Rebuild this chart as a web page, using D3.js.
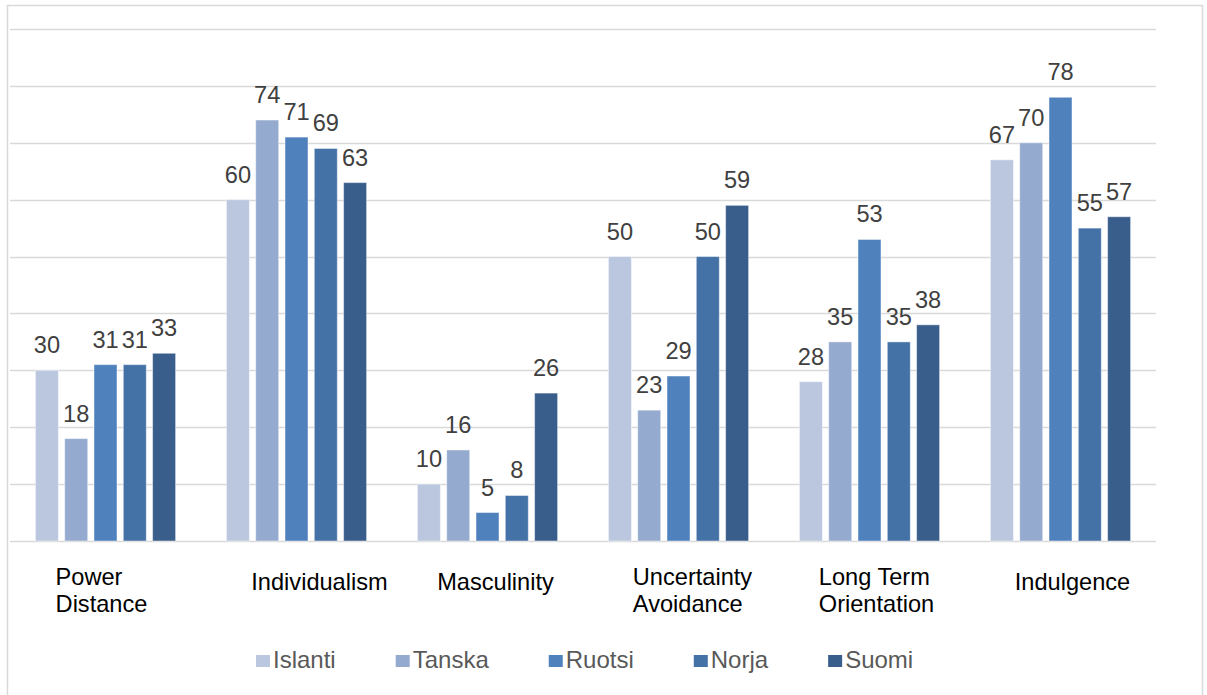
<!DOCTYPE html>
<html>
<head>
<meta charset="utf-8">
<script src="https://cdn.jsdelivr.net/npm/d3@7"></script>
<style>
  body { margin: 0; background: #fff; }
  svg text { font-family: "Liberation Sans", Arial, sans-serif; }
</style>
</head>
<body>
<div id="chart"></div>
<script>
// chart data
const categories = ["Power Distance", "Individualism", "Masculinity", "Uncertainty Avoidance", "Long Term Orientation", "Indulgence"];
const seriesNames = ["Islanti", "Tanska", "Ruotsi", "Norja", "Suomi"];
const islanti = [30, 60, 10, 50, 28, 67];
const tanska  = [18, 74, 16, 23, 35, 70];
const ruotsi  = [31, 71, 5, 29, 53, 78];
const norja   = [31, 69, 8, 50, 35, 55];
const suomi   = [33, 63, 26, 59, 38, 57];
const yTicks  = [0, 10, 20, 30, 40, 50, 60, 70, 80, 90];

const seriesValues = [islanti, tanska, ruotsi, norja, suomi];
const colors = ["#bac7df", "#95aacf", "#4f81bd", "#4472a7", "#3a5e8c"];

// label lines for the category axis (wrapped like the original)
const labelLines = [["Power", "Distance"], ["Individualism"], ["Masculinity"], ["Uncertainty", "Avoidance"], ["Long Term", "Orientation"], ["Indulgence"]];
const labelNudge = [-4, 23, 8, 14, 7, 12];

const W = 1207, H = 695;
const plotLeft = 10, plotRight = 1156, plotTop = 29, plotBottom = 541;
const fontSize = "23.6px";

const svg = d3.select("#chart").append("svg")
  .attr("width", W)
  .attr("height", H);

// outer frame
svg.append("rect")
  .attr("x", 7.5).attr("y", 5.5)
  .attr("width", 1195).attr("height", 720)
  .attr("fill", "none")
  .attr("stroke", "#d9d9d9")
  .attr("stroke-width", 1.5);

const y = d3.scaleLinear().domain([0, 90]).range([plotBottom, plotTop]);

const x0 = d3.scaleBand()
  .domain(categories)
  .range([plotLeft, plotRight])
  .paddingInner(0.266)
  .paddingOuter(0.133);

const x1 = d3.scaleBand()
  .domain(seriesNames)
  .range([0, x0.bandwidth()])
  .paddingInner(0.215)
  .paddingOuter(0);

// gridlines
svg.append("g")
  .selectAll("line")
  .data(yTicks)
  .enter()
  .append("line")
  .attr("x1", plotLeft).attr("x2", plotRight)
  .attr("y1", d => Math.round(y(d)) + 0.5)
  .attr("y2", d => Math.round(y(d)) + 0.5)
  .attr("stroke", "#d9d9d9")
  .attr("stroke-width", 1.5);

// bars
const rows = [];
categories.forEach((c, i) => {
  seriesNames.forEach((s, j) => {
    rows.push({ cat: c, series: s, value: seriesValues[j][i], color: colors[j] });
  });
});

const groups = svg.append("g");
groups.selectAll("rect")
  .data(rows)
  .enter()
  .append("rect")
  .attr("x", d => x0(d.cat) + x1(d.series))
  .attr("y", d => y(d.value))
  .attr("width", x1.bandwidth())
  .attr("height", d => y(0) - y(d.value))
  .attr("fill", d => d.color)
  .attr("stroke", "rgba(255,255,255,0.45)")
  .attr("stroke-width", 1);

// value labels
groups.selectAll("text")
  .data(rows)
  .enter()
  .append("text")
  .attr("x", d => x0(d.cat) + x1(d.series) + x1.bandwidth() / 2)
  .attr("y", d => y(d.value) - 17)
  .attr("text-anchor", "middle")
  .attr("font-size", fontSize)
  .attr("fill", "#404040")
  .text(d => d.value);

// category labels
const catG = svg.append("g");
categories.forEach((c, i) => {
  const lines = labelLines[i];
  const g = catG.append("g");
  const texts = lines.map((ln, k) => g.append("text")
    .attr("font-size", fontSize)
    .attr("fill", "#000")
    .attr("y", lines.length > 1 ? 585 + k * 27 : 590)
    .text(ln));
  const widest = d3.max(texts, t => t.node().getComputedTextLength());
  const cx = x0(c) + x0.bandwidth() / 2 + labelNudge[i];
  texts.forEach(t => t.attr("x", cx - widest / 2));
});

// legend
const legend = svg.append("g").attr("transform", "translate(256,0)");
let lx = 0;
seriesNames.forEach((s, j) => {
  const item = legend.append("g").attr("transform", `translate(${lx},0)`);
  item.append("rect")
    .attr("x", 0).attr("y", 655)
    .attr("width", 14).attr("height", 12)
    .attr("fill", colors[j]);
  const t = item.append("text")
    .attr("x", 17).attr("y", 668)
    .attr("font-size", "24px")
    .attr("fill", "#595959")
    .text(s);
  lx += 17 + t.node().getComputedTextLength() + 60;
});
</script>
</body>
</html>
